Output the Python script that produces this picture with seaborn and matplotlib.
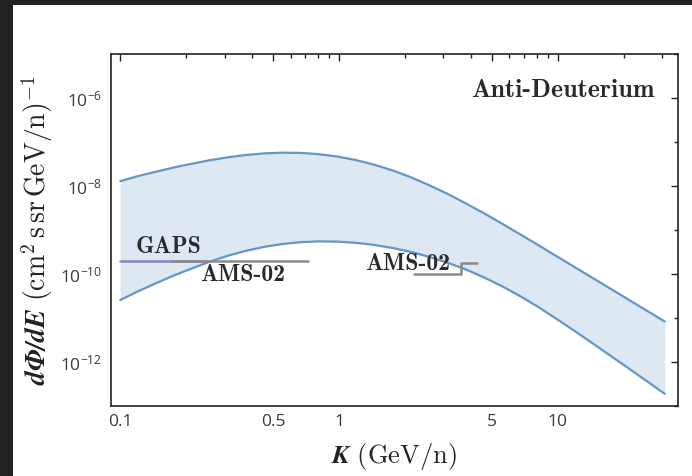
import numpy as np
import pandas as pd
import matplotlib
matplotlib.use("Agg")
import matplotlib.pyplot as plt
from matplotlib.patches import Rectangle
from matplotlib.ticker import FixedLocator, FixedFormatter, NullFormatter
from matplotlib.mathtext import MathTextParser
import seaborn as sns

# ---------------- data ----------------
k_values = [0.100, 0.119, 0.144, 0.174, 0.211, 0.256, 0.310, 0.376, 0.455,
            0.551, 0.668, 0.810, 0.990, 1.20, 1.45, 1.76, 2.13, 2.58, 3.13,
            3.79, 4.60, 5.57, 6.75, 8.19, 9.92, 12.0, 14.6, 17.7, 21.4,
            26.0, 30.8]
flux_upper = [1.300e-08, 1.667e-08, 2.109e-08, 2.630e-08, 3.228e-08,
              3.882e-08, 4.539e-08, 5.129e-08, 5.572e-08, 5.781e-08,
              5.715e-08, 5.333e-08, 4.699e-08, 3.908e-08, 3.069e-08,
              2.275e-08, 1.592e-08, 1.057e-08, 6.699e-09, 4.083e-09,
              2.415e-09, 1.396e-09, 7.943e-10, 4.477e-10, 2.512e-10,
              1.419e-10, 7.889e-11, 4.416e-11, 2.500e-11, 1.390e-11,
              8.340e-12]
flux_lower = [2.57e-11, 3.94e-11, 6.05e-11, 9.12e-11, 1.33e-10, 1.91e-10,
              2.62e-10, 3.40e-10, 4.17e-10, 4.84e-10, 5.33e-10, 5.56e-10,
              5.47e-10, 5.14e-10, 4.61e-10, 3.92e-10, 3.20e-10, 2.47e-10,
              1.82e-10, 1.28e-10, 8.41e-11, 5.27e-11, 3.12e-11, 1.75e-11,
              9.40e-12, 4.99e-12, 2.55e-12, 1.31e-12, 6.79e-13, 3.44e-13,
              1.89e-13]

gaps_k = [0.1, 0.25]
gaps_flux = [1.97e-10, 1.97e-10]
ams_low_k = [0.17, 0.72]
ams_low_flux = [1.97e-10, 1.97e-10]
ams_high_k = [2.2, 3.6, 4.25]
ams_high_flux = [1.0e-10, 1.8e-10, 1.8e-10]

x_major = [0.1, 0.5, 1, 5, 10]
x_major_labels = ["0.1", "0.5", "1", "5", "10"]
x_minor = [0.2, 0.3, 0.4, 0.6, 0.7, 0.8, 0.9, 2, 3, 4, 6, 7, 8, 9, 20, 30]
y_major = [1e-6, 1e-8, 1e-10, 1e-12]
y_major_labels = [r"$\mathdefault{10^{-6}}$", r"$\mathdefault{10^{-8}}$",
                  r"$\mathdefault{10^{-10}}$", r"$\mathdefault{10^{-12}}$"]
y_minor = [1e-5, 1e-7, 1e-9, 1e-11, 1e-13]

# ---------------- style ----------------
sns.set_theme(style="white")
plt.rcParams["font.family"] = ["Open Sans", "DejaVu Sans"]
plt.rcParams["mathtext.fontset"] = "cm"

fig = plt.figure(figsize=(6.92, 4.76), dpi=100)
fig.patch.set_facecolor("#222222")
fig.patches.append(Rectangle((13 / 692, 0), 1 - 13 / 692, 1 - 5 / 476,
                             transform=fig.transFigure, facecolor="white",
                             edgecolor="none", zorder=-10))
ax = fig.add_axes([111 / 692, 1 - 406 / 476, (677.7 - 111) / 692,
                   (406 - 54.3) / 476])
ax.set_zorder(1)
ax.set_facecolor("white")

line_col = "#6596c6"
fill_col = "#dde8f3"

df = pd.DataFrame({"K": k_values, "upper": flux_upper, "lower": flux_lower})
ax.fill_between(df["K"], df["lower"], df["upper"], color=fill_col, lw=0,
                zorder=1)
sns.lineplot(data=df, x="K", y="upper", ax=ax, color=line_col, lw=1.6,
             estimator=None, sort=False, zorder=3)
sns.lineplot(data=df, x="K", y="lower", ax=ax, color=line_col, lw=1.6,
             estimator=None, sort=False, zorder=3)

ax.plot(gaps_k, gaps_flux, color="#8c86c4", lw=1.8, zorder=4)
ax.plot(ams_low_k, ams_low_flux, color="#8a8a8a", lw=1.8, zorder=5)
ax.plot(ams_high_k, ams_high_flux, color="#8a8a8a", lw=1.8,
        drawstyle="steps-post", zorder=5)

ax.set_xscale("log")
ax.set_yscale("log")
ax.set_xlim(0.0907, 35.3)
ax.set_ylim(1e-13, 1e-5)

ax.xaxis.set_major_locator(FixedLocator(x_major))
ax.xaxis.set_major_formatter(FixedFormatter(x_major_labels))
ax.xaxis.set_minor_locator(FixedLocator(x_minor))
ax.xaxis.set_minor_formatter(NullFormatter())
ax.yaxis.set_major_locator(FixedLocator(y_major))
ax.yaxis.set_major_formatter(FixedFormatter(y_major_labels))
ax.yaxis.set_minor_locator(FixedLocator(y_minor))
ax.yaxis.set_minor_formatter(NullFormatter())

ax.tick_params(which="both", direction="in", top=True, right=True,
               color="#222222", width=1.0, labelcolor="#3a3a3a",
               labelsize=12.5)
ax.tick_params(which="major", length=5, pad=6)
ax.tick_params(which="minor", length=3)
for s in ax.spines.values():
    s.set_color("#222222")
    s.set_linewidth(1.2)

def ok(s):
    try:
        MathTextParser("path").parse(s, 72)
        return True
    except Exception:
        return False

xl = r"$\mathbfit{K}\ \mathrm{(GeV/n)}$"
yl = r"$\mathbfit{d\Phi/dE}\ \mathrm{(cm^2\,s\,sr\,GeV/n)^{-1}}$"
if not ok(xl):
    xl = r"$\mathbf{K}\ \mathrm{(GeV/n)}$"
if not ok(yl):
    yl = r"$\mathbf{d\Phi/dE}\ \mathrm{(cm^2\,s\,sr\,GeV/n)^{-1}}$"
ax.set_xlabel(xl, fontsize=19, color="#222222", labelpad=8)
ax.set_ylabel(yl, fontsize=20, color="#222222", labelpad=4)

tk = dict(fontfamily="cmb10", fontsize=17, color="#2a2a2a", zorder=6)
ax.text(0.118, 4.2e-10, "GAPS", ha="left", va="center", **tk)
ax.text(0.232, 9.3e-11, "AMS-02", ha="left", va="center", **tk)
ax.text(1.31, 1.66e-10, "AMS-02", ha="left", va="center", **tk)
tk["fontsize"] = 18.7
ax.text(0.96, 0.898, "Anti-Deuterium", transform=ax.transAxes, ha="right",
        va="center", **tk)

fig.savefig("out.png", dpi=100, facecolor=fig.get_facecolor())
